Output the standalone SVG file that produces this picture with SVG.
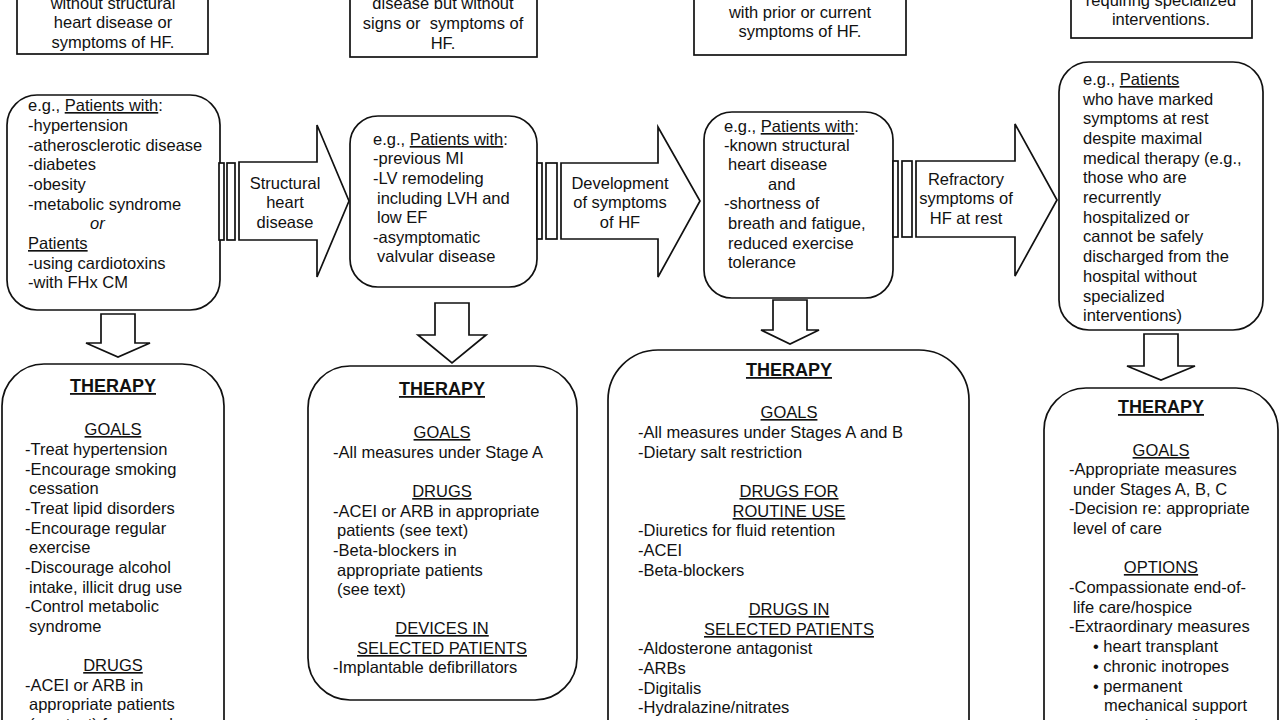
<svg xmlns="http://www.w3.org/2000/svg" width="1280" height="720" viewBox="0 0 1280 720">
<style>
.bx{fill:#fff;stroke:#111;stroke-width:1.7}
.ar{fill:#fff;stroke:#111;stroke-width:1.7;stroke-linejoin:miter}
text{font-family:"Liberation Sans",Arial,sans-serif;font-size:16.5px;fill:#111}
.c{text-anchor:middle}
.u{text-decoration:underline}
.b{font-weight:bold;font-size:18px}
.i{font-style:italic}
</style>
<rect width="1280" height="720" fill="#fff"/>

<g id="stageA-def">
<rect class="bx" x="17" y="-10" width="191" height="64"/>
<text class="c" x="113" y="9">without structural</text>
<text class="c" x="113" y="28">heart disease or</text>
<text class="c" x="113" y="48">symptoms of HF.</text>
</g>
<g id="stageB-def">
<rect class="bx" x="350" y="-10" width="187" height="67"/>
<text class="c" x="443" y="9">disease but without</text>
<text class="c" x="443" y="29" xml:space="preserve">signs or  symptoms of</text>
<text class="c" x="443" y="49">HF.</text>
</g>
<g id="stageC-def">
<rect class="bx" x="694" y="-10" width="212" height="65"/>
<text class="c" x="800" y="18">with prior or current</text>
<text class="c" x="800" y="37">symptoms of HF.</text>
</g>
<g id="stageD-def">
<rect class="bx" x="1071" y="-10" width="181" height="48"/>
<text class="c" x="1161" y="6">requiring specialized</text>
<text class="c" x="1161" y="25">interventions.</text>
</g>

<g id="stageA-patients">
<rect class="bx" x="7" y="95" width="213" height="215" rx="30"/>
<text x="28" y="111">e.g., <tspan class="u">Patients with</tspan>:</text>
<text x="28" y="131">-hypertension</text>
<text x="28" y="151">-atherosclerotic disease</text>
<text x="28" y="170">-diabetes</text>
<text x="28" y="190">-obesity</text>
<text x="28" y="210">-metabolic syndrome</text>
<text class="i" x="90" y="229">or</text>
<text class="u" x="28" y="249">Patients</text>
<text x="28" y="269">-using cardiotoxins</text>
<text x="28" y="288">-with FHx CM</text>
</g>

<g id="stageB-patients">
<rect class="bx" x="350" y="116" width="187" height="171" rx="28"/>
<text x="373" y="145">e.g., <tspan class="u">Patients with</tspan>:</text>
<text x="373" y="164">-previous MI</text>
<text x="373" y="184">-LV remodeling</text>
<text x="377" y="204">including LVH and</text>
<text x="377" y="223">low EF</text>
<text x="373" y="243">-asymptomatic</text>
<text x="377" y="262">valvular disease</text>
</g>

<g id="stageC-patients">
<rect class="bx" x="704" y="112" width="189" height="186" rx="28"/>
<text x="724" y="132">e.g., <tspan class="u">Patients with</tspan>:</text>
<text x="724" y="151">-known structural</text>
<text x="728" y="170">heart disease</text>
<text x="768" y="190">and</text>
<text x="724" y="209">-shortness of</text>
<text x="728" y="229">breath and fatigue,</text>
<text x="728" y="249">reduced exercise</text>
<text x="728" y="268">tolerance</text>
</g>

<g id="stageD-patients">
<rect class="bx" x="1059" y="62" width="204" height="268" rx="30"/>
<text x="1083" y="85">e.g., <tspan class="u">Patients</tspan></text>
<text x="1083" y="105">who have marked</text>
<text x="1083" y="124">symptoms at rest</text>
<text x="1083" y="144">despite maximal</text>
<text x="1083" y="164">medical therapy (e.g.,</text>
<text x="1083" y="183">those who are</text>
<text x="1083" y="203">recurrently</text>
<text x="1083" y="223">hospitalized or</text>
<text x="1083" y="242">cannot be safely</text>
<text x="1083" y="262">discharged from the</text>
<text x="1083" y="282">hospital without</text>
<text x="1083" y="302">specialized</text>
<text x="1083" y="321">interventions)</text>
</g>

<g id="stageA-therapy">
<rect class="bx" x="2" y="364" width="222" height="420" rx="42"/>
<text class="c b u" x="113" y="392">THERAPY</text>
<text class="c u" x="113" y="435">GOALS</text>
<text x="25" y="455">-Treat hypertension</text>
<text x="25" y="475">-Encourage smoking</text>
<text x="29" y="494">cessation</text>
<text x="25" y="514">-Treat lipid disorders</text>
<text x="25" y="534">-Encourage regular</text>
<text x="29" y="553">exercise</text>
<text x="25" y="573">-Discourage alcohol</text>
<text x="29" y="593">intake, illicit drug use</text>
<text x="25" y="612">-Control metabolic</text>
<text x="29" y="632">syndrome</text>
<text class="c u" x="113" y="671">DRUGS</text>
<text x="25" y="691">-ACEI or ARB in</text>
<text x="29" y="710">appropriate patients</text>
<text x="29" y="730">(see text) for vascular</text>
</g>

<g id="stageB-therapy">
<rect class="bx" x="308" y="366" width="269" height="334" rx="42"/>
<text class="c b u" x="442" y="395">THERAPY</text>
<text class="c u" x="442" y="438">GOALS</text>
<text x="333" y="458">-All measures under Stage A</text>
<text class="c u" x="442" y="497">DRUGS</text>
<text x="333" y="517">-ACEI or ARB in appropriate</text>
<text x="337" y="536">patients (see text)</text>
<text x="333" y="556">-Beta-blockers in</text>
<text x="337" y="576">appropriate patients</text>
<text x="337" y="595">(see text)</text>
<text class="c u" x="442" y="634">DEVICES IN</text>
<text class="c u" x="442" y="654">SELECTED PATIENTS</text>
<text x="333" y="673">-Implantable defibrillators</text>
</g>

<g id="stageC-therapy">
<rect class="bx" x="608" y="350" width="361" height="420" rx="50"/>
<text class="c b u" x="789" y="376">THERAPY</text>
<text class="c u" x="789" y="418">GOALS</text>
<text x="638" y="438">-All measures under Stages A and B</text>
<text x="638" y="458">-Dietary salt restriction</text>
<text class="c u" x="789" y="497">DRUGS FOR</text>
<text class="c u" x="789" y="517">ROUTINE USE</text>
<text x="638" y="536">-Diuretics for fluid retention</text>
<text x="638" y="556">-ACEI</text>
<text x="638" y="576">-Beta-blockers</text>
<text class="c u" x="789" y="615">DRUGS IN</text>
<text class="c u" x="789" y="635">SELECTED PATIENTS</text>
<text x="638" y="654">-Aldosterone antagonist</text>
<text x="638" y="674">-ARBs</text>
<text x="638" y="694">-Digitalis</text>
<text x="638" y="713">-Hydralazine/nitrates</text>
</g>

<g id="stageD-therapy">
<rect class="bx" x="1044" y="388" width="234" height="400" rx="42"/>
<text class="c b u" x="1161" y="413">THERAPY</text>
<text class="c u" x="1161" y="456">GOALS</text>
<text x="1069" y="475">-Appropriate measures</text>
<text x="1073" y="495">under Stages A, B, C</text>
<text x="1069" y="514">-Decision re: appropriate</text>
<text x="1073" y="534">level of care</text>
<text class="c u" x="1161" y="573">OPTIONS</text>
<text x="1069" y="593">-Compassionate end-of-</text>
<text x="1073" y="613">life care/hospice</text>
<text x="1069" y="632">-Extraordinary measures</text>
<text x="1093" y="652">• heart transplant</text>
<text x="1093" y="672">• chronic inotropes</text>
<text x="1093" y="692">• permanent</text>
<text x="1104" y="711">mechanical support</text>
<text x="1093" y="731">• experimental</text>
</g>

<g id="connectors">
<rect class="ar" x="219" y="163" width="5" height="77"/>
<rect class="ar" x="227" y="163" width="8" height="77"/>
<polygon class="ar" points="239,162 317,162 317,125 349,201 317,277 317,240 239,240"/>
<text class="c" x="285" y="189">Structural</text>
<text class="c" x="285" y="208">heart</text>
<text class="c" x="285" y="228">disease</text>

<rect class="ar" x="537" y="163" width="5" height="76"/>
<rect class="ar" x="546" y="163" width="11" height="76"/>
<polygon class="ar" points="561,163 658,163 658,127 700,201 658,277 658,239 561,239"/>
<text class="c" x="620" y="189">Development</text>
<text class="c" x="620" y="208">of symptoms</text>
<text class="c" x="620" y="228">of HF</text>

<rect class="ar" x="893" y="161" width="5" height="76"/>
<rect class="ar" x="902" y="161" width="10" height="76"/>
<polygon class="ar" points="916,161 1015,161 1015,124 1057,200 1015,276 1015,237 916,237"/>
<text class="c" x="966" y="185">Refractory</text>
<text class="c" x="966" y="204">symptoms of</text>
<text class="c" x="966" y="224">HF at rest</text>

<polygon class="ar" points="101,314 135,314 135,343 150,343 118,357 86,343 101,343"/>
<polygon class="ar" points="435,303 469,303 469,335 486,335 452,363 418,335 435,335"/>
<polygon class="ar" points="773,300 807,300 807,330 819,330 790,344 761,330 773,330"/>
<polygon class="ar" points="1144,334 1178,334 1178,366 1195,366 1161,380 1127,366 1144,366"/>
</g>
</svg>
